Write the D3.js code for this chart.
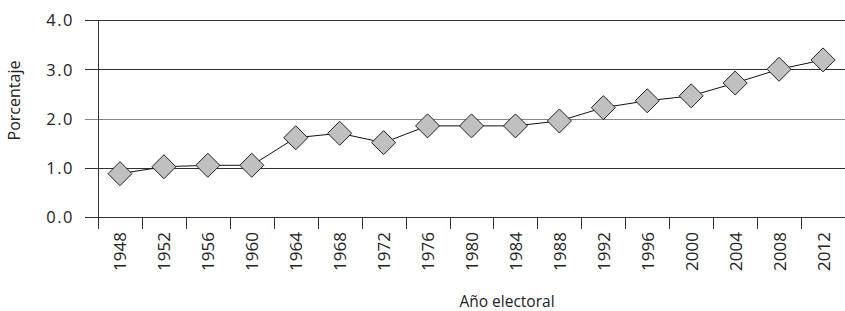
<!DOCTYPE html>
<html>
<head>
<meta charset="utf-8">
<script src="https://cdn.jsdelivr.net/npm/d3@7"></script>
<style>
    body { margin: 0; background: #fff; }
    #chart-area { width: 845px; height: 311px; }
    text { font-family: "Open Sans", sans-serif; fill: #222; }
</style>
</head>
<body>
<div id="chart-area"></div>
<script>
// years on the x axis
let years = ["1948", "1952", "1956", "1960", "1964", "1968", "1972", "1976", "1980",
    "1984", "1988", "1992", "1996", "2000", "2004", "2008", "2012"];

// percentage per election year
let values = [0.88, 1.02, 1.05, 1.05, 1.61, 1.70, 1.51, 1.85, 1.85,
    1.85, 1.95, 2.22, 2.36, 2.46, 2.72, 3.00, 3.19];

let yTicks = [0, 1, 2, 3, 4];

class LineChart {
    constructor(parentElement, years, values) {
        this.parentElement = parentElement;
        this.years = years;
        this.values = values;
        this.initVis();
    }

    initVis() {
        let vis = this;

        vis.margin = {top: 20, right: 0, bottom: 94, left: 98};

        vis.width = 845 - vis.margin.left - vis.margin.right;
        vis.height = 311 - vis.margin.top - vis.margin.bottom;

        vis.svg = d3.select("#" + vis.parentElement).append("svg")
            .attr("width", vis.width + vis.margin.left + vis.margin.right)
            .attr("height", vis.height + vis.margin.top + vis.margin.bottom)
            .append("g")
            .attr("transform", "translate(" + vis.margin.left + "," + vis.margin.top + ")");

        vis.x = d3.scaleBand()
            .domain(vis.years)
            .range([0, vis.width]);

        vis.y = d3.scaleLinear()
            .domain([0, 4])
            .range([vis.height, 0]);

        // horizontal gridlines, reaching a bit left of the axis
        vis.svg.selectAll(".grid")
            .data(yTicks)
            .enter().append("line")
            .attr("class", "grid")
            .attr("x1", -13)
            .attr("x2", vis.width)
            .attr("y1", d => Math.round(vis.y(d)) + 0.5)
            .attr("y2", d => Math.round(vis.y(d)) + 0.5)
            .attr("stroke", d => d == 2 ? "#888" : "#333")
            .attr("stroke-width", 1);

        // y labels
        vis.svg.selectAll(".y-label")
            .data(yTicks)
            .enter().append("text")
            .attr("class", "y-label")
            .attr("x", -24)
            .attr("y", d => vis.y(d))
            .attr("dy", "0.38em")
            .attr("text-anchor", "end")
            .style("font-size", "16.5px")
            .style("letter-spacing", "1.5px")
            .text(d => d3.format(".1f")(d));

        // y axis line
        vis.svg.append("line")
            .attr("x1", 0.5).attr("x2", 0.5)
            .attr("y1", 0).attr("y2", vis.height + 12)
            .attr("stroke", "#333");

        // x ticks at band edges
        vis.svg.selectAll(".x-tick")
            .data(vis.years.slice(1))
            .enter().append("line")
            .attr("class", "x-tick")
            .attr("x1", d => Math.round(vis.x(d)) + 0.5)
            .attr("x2", d => Math.round(vis.x(d)) + 0.5)
            .attr("y1", vis.height)
            .attr("y2", vis.height + 12)
            .attr("stroke", "#333");

        // year labels, rotated
        vis.svg.selectAll(".x-label")
            .data(vis.years)
            .enter().append("text")
            .attr("class", "x-label")
            .attr("transform", d => "translate(" + (vis.x(d) + vis.x.bandwidth() / 2 + 6.5) + "," + (vis.height + 15) + ") rotate(-90)")
            .attr("text-anchor", "end")
            .style("font-size", "17px")
            .text(d => d);

        // axis titles
        vis.svg.append("text")
            .attr("x", 409)
            .attr("y", vis.height + 90)
            .attr("text-anchor", "middle")
            .style("font-size", "15.5px")
            .text("Año electoral");

        vis.svg.append("text")
            .attr("transform", "translate(" + (-78.5) + "," + (vis.height / 2 - 18) + ") rotate(-90)")
            .attr("text-anchor", "middle")
            .style("font-size", "16px")
            .text("Porcentaje");

        vis.updateVis();
    }

    updateVis() {
        let vis = this;

        let cx = (d, i) => vis.x(vis.years[i]) + vis.x.bandwidth() / 2;

        let line = d3.line()
            .x((d, i) => cx(d, i))
            .y(d => vis.y(d));

        vis.svg.append("path")
            .datum(vis.values)
            .attr("d", line)
            .attr("fill", "none")
            .attr("stroke", "#111")
            .attr("stroke-width", 1);

        // diamond markers
        vis.svg.selectAll(".marker")
            .data(vis.values)
            .enter().append("path")
            .attr("class", "marker")
            .attr("d", "M0,-12L12,0L0,12L-12,0Z")
            .attr("transform", (d, i) => "translate(" + cx(d, i) + "," + vis.y(d) + ")")
            .attr("fill", "#c0c0c0")
            .attr("stroke", "#222")
            .attr("stroke-width", 1);
    }
}

let lineChart = new LineChart("chart-area", years, values);
</script>
</body>
</html>
